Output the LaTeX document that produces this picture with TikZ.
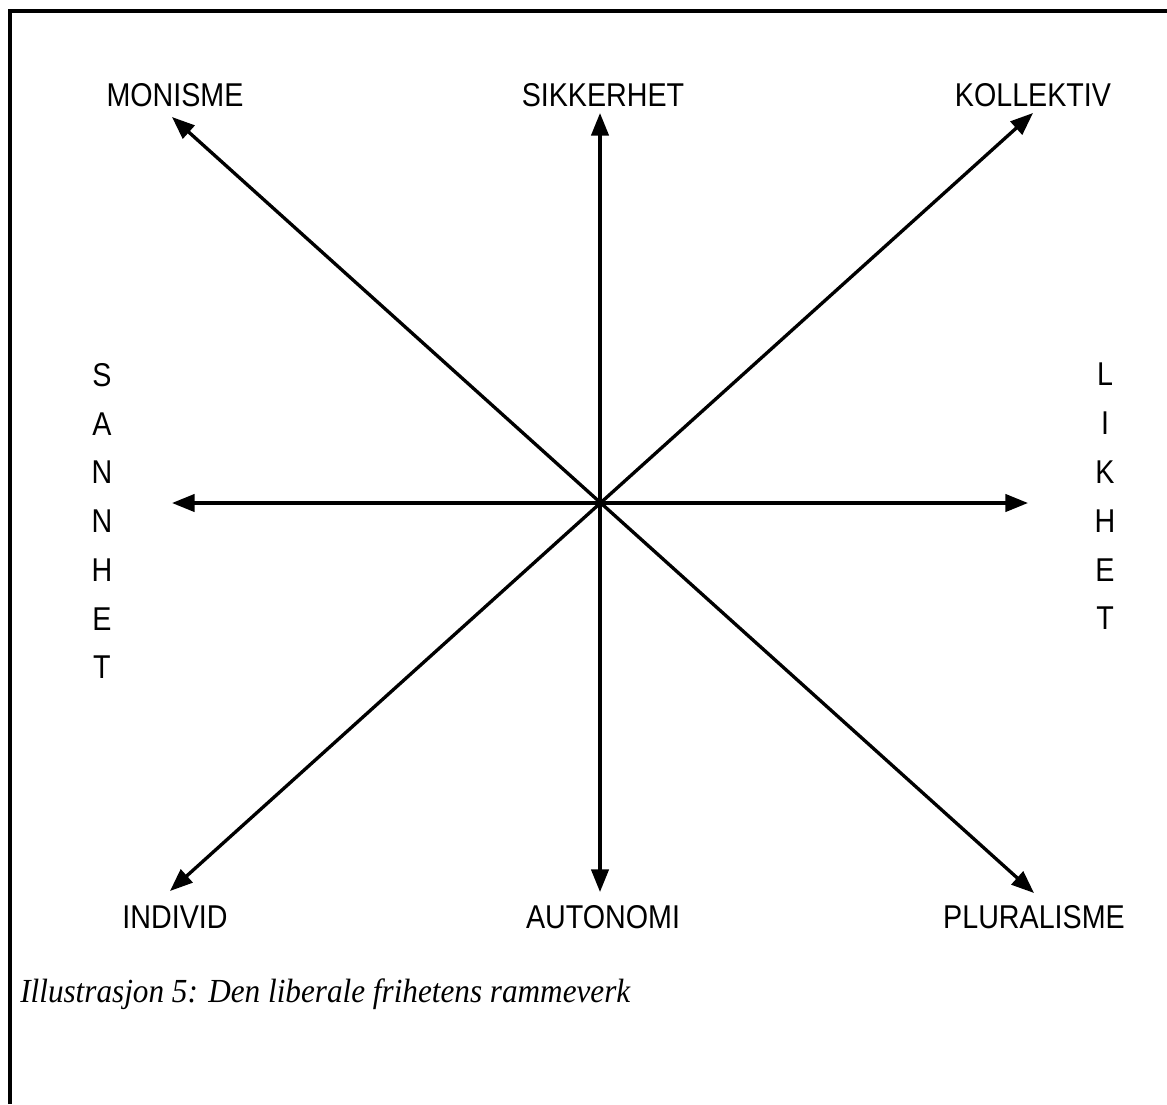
\documentclass[tikz,border=0pt]{standalone}
\usepackage{fontspec}
\setmainfont{Liberation Serif}
\setsansfont{Liberation Sans}
\usetikzlibrary{arrows.meta}

\begin{document}
\begin{tikzpicture}[
x=0.75pt, y=-0.75pt,
axis/.style={line width=2.5pt, {Triangle[length=17pt,width=13pt]}-{Triangle[length=17pt,width=13pt]}},
pole/.style={font=\sffamily\fontsize{21.5}{26}\selectfont, inner sep=0pt, anchor=base, yscale=1.15, transform shape},
side/.style={font=\sffamily\fontsize{21.5}{31.8}\selectfont, inner sep=0pt, align=center, anchor=north, yscale=1.15, transform shape},
]
\useasboundingbox (0,0) rectangle (1167,1104);
\draw[line width=2.3pt] (10,1104) -- (10,11) -- (1167,11);

% pole labels
\node[pole] (monisme) at (175,106) {MONISME};
\node[pole] (sikkerhet) at (603,106) {SIKKERHET};
\node[pole] (kollektiv) at (1033,106) {KOLLEKTIV};
\node[pole] (individ) at (175,928) {INDIVID};
\node[pole] (autonomi) at (603,928) {AUTONOMI};
\node[pole] (pluralisme) at (1034,928) {PLURALISME};
\node[side] (sannhet) at (102,363) {S\\A\\N\\N\\H\\E\\T};
\node[side] (likhet) at (1105,363) {L\\I\\K\\H\\E\\T};

% arrow ends
\coordinate (nw) at (172,117);
\coordinate (n) at (600,113);
\coordinate (ne) at (1033,113);
\coordinate (w) at (172,503);
\coordinate (e) at (1028,503);
\coordinate (sw) at (170,891);
\coordinate (s) at (600,892);
\coordinate (se) at (1034,893);

\draw[axis] (nw) -- (se);
\draw[axis] (ne) -- (sw);
\draw[axis] (n) -- (s);
\draw[axis] (w) -- (e);

\node[anchor=base west, inner sep=0pt, font=\itshape\fontsize{23.4}{28}\selectfont, yscale=1.08, transform shape] (caption) at (20,1002)
  {Illustrasjon 5: Den liberale frihetens rammeverk};
\end{tikzpicture}
\end{document}
